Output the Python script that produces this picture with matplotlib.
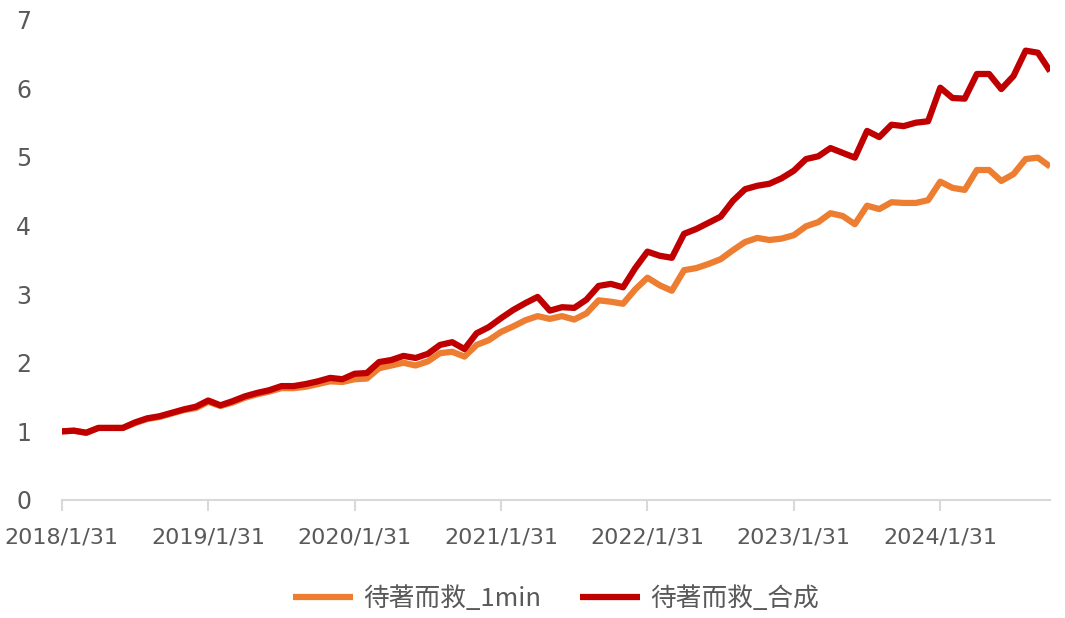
import numpy as np
import pandas as pd
import matplotlib
matplotlib.use("Agg")
import matplotlib.pyplot as plt

plt.rcParams["font.family"] = ["Noto Sans CJK SC", "DejaVu Sans"]

dates = pd.date_range("2018-01-31", periods=82, freq="ME")

series_1min = [
    1.00, 1.01, 0.98, 1.05, 1.05, 1.05, 1.12, 1.18, 1.21, 1.26, 1.31, 1.34,
    1.43, 1.37, 1.42, 1.49, 1.54, 1.58, 1.63, 1.63, 1.65, 1.69, 1.73, 1.72,
    1.76, 1.77, 1.92, 1.96, 2.00, 1.96, 2.02, 2.14, 2.16, 2.09, 2.26, 2.33,
    2.45, 2.53, 2.62, 2.68, 2.64, 2.68, 2.63, 2.72, 2.91, 2.89, 2.86, 3.07,
    3.24, 3.13, 3.05, 3.35, 3.38, 3.44, 3.51, 3.64, 3.76, 3.82, 3.79, 3.81,
    3.86, 3.99, 4.05, 4.18, 4.14, 4.02, 4.29, 4.24, 4.34, 4.33, 4.33, 4.37,
    4.64, 4.55, 4.52, 4.81, 4.81, 4.65, 4.75, 4.97, 4.99, 4.86,
]

series_combo = [
    1.00, 1.01, 0.98, 1.05, 1.05, 1.05, 1.13, 1.19, 1.22, 1.27, 1.32, 1.36,
    1.45, 1.38, 1.44, 1.51, 1.56, 1.60, 1.66, 1.66, 1.69, 1.73, 1.78, 1.76,
    1.84, 1.85, 2.01, 2.04, 2.10, 2.07, 2.13, 2.26, 2.30, 2.20, 2.43, 2.52,
    2.65, 2.77, 2.87, 2.96, 2.76, 2.81, 2.80, 2.92, 3.12, 3.15, 3.10, 3.38,
    3.62, 3.56, 3.53, 3.88, 3.95, 4.04, 4.13, 4.36, 4.53, 4.58, 4.61, 4.69,
    4.80, 4.97, 5.01, 5.13, 5.06, 4.99, 5.38, 5.29, 5.47, 5.45, 5.50, 5.52,
    6.01, 5.86, 5.85, 6.21, 6.21, 5.99, 6.18, 6.55, 6.52, 6.25,
]

labels = ["待著而救_1min", "待著而救_合成"]
colors = ["#ED7D31", "#C00000"]

x = np.arange(len(dates))
tick_pos = x[::12]
tick_labels = [f"{d.year}/{d.month}/{d.day}" for d in dates[::12]]

fig = plt.figure(figsize=(10.65, 6.18), dpi=100)
ax = fig.add_axes([0.058, 0.191, 0.928, 0.777])

ax.plot(x, series_1min, color=colors[0], lw=4.5, label=labels[0],
        solid_joinstyle="round", solid_capstyle="butt")
ax.plot(x, series_combo, color=colors[1], lw=4.5, label=labels[1],
        solid_joinstyle="round", solid_capstyle="butt")

ax.set_xlim(0, len(dates) - 1)
ax.set_ylim(0, 7)
ax.set_yticks(range(0, 8))

for side in ["top", "right", "left"]:
    ax.spines[side].set_visible(False)
ax.spines["bottom"].set_color("#D9D9D9")
ax.spines["bottom"].set_linewidth(1.5)

ax.set_xticks(tick_pos)
ax.set_xticklabels(tick_labels, family="DejaVu Sans")
ax.tick_params(axis="x", direction="out", length=8, width=1.5, color="#D9D9D9",
               labelsize=16, labelcolor="#595959", pad=12)
ax.tick_params(axis="y", length=0, labelsize=17, labelcolor="#595959", pad=22)
for t in ax.get_yticklabels():
    t.set_family("DejaVu Sans")

leg = ax.legend(loc="upper center", bbox_to_anchor=(0.5, -0.13), ncol=2,
                frameon=False, fontsize=18.5, handlelength=2.35,
                columnspacing=1.5, handletextpad=0.4)
for t in leg.get_texts():
    t.set_color("#595959")

fig.savefig("out.png", dpi=100)
